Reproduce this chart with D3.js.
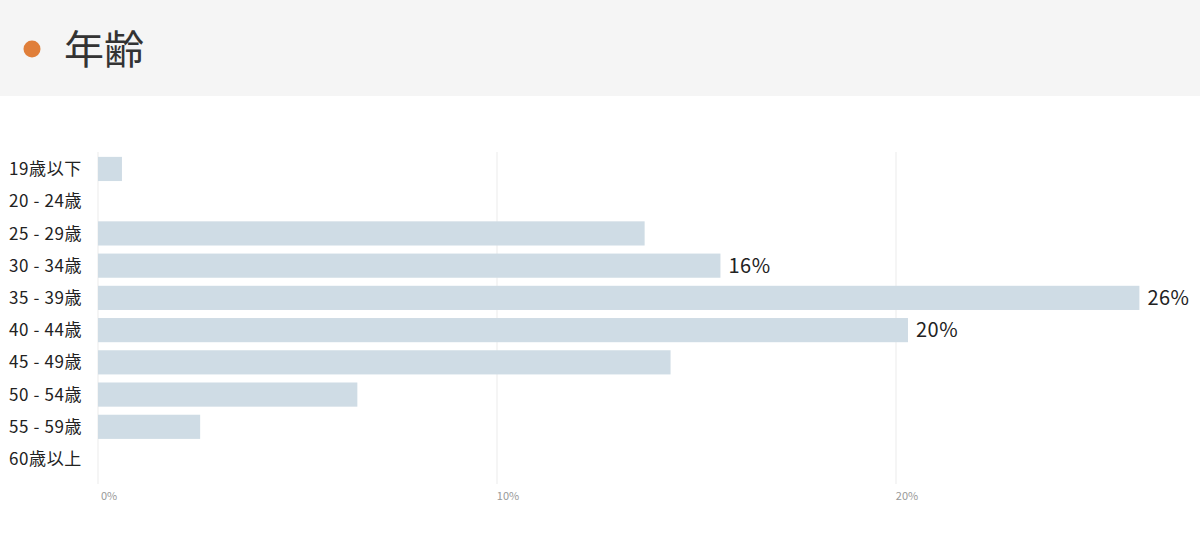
<!DOCTYPE html>
<html><head><meta charset="utf-8">
<script src="https://cdn.jsdelivr.net/npm/d3@7"></script>
<style>body{margin:0;background:#fff;font-family:"Noto Sans CJK JP","Noto Sans",sans-serif;}</style>
</head><body><div id="chart"></div>
<script>
// data
var categories = ["19歳以下","20 - 24歳","25 - 29歳","30 - 34歳","35 - 39歳","40 - 44歳","45 - 49歳","50 - 54歳","55 - 59歳","60歳以上"];
var values = [0.6, 0, 13.7, 15.6, 26.1, 20.3, 14.35, 6.5, 2.56, 0];
var valueLabels = ["", "", "", "16%", "26%", "20%", "", "", "", ""];
var ticks = [0, 10, 20];

var svgWidth = 1200, svgHeight = 544;
var svg = d3.select("#chart").append("svg")
  .attr("width", svgWidth).attr("height", svgHeight);

// header band
svg.append("rect").attr("x", 0).attr("y", 0).attr("width", svgWidth).attr("height", 96).attr("fill", "#f5f5f5");
svg.append("circle").attr("cx", 32).attr("cy", 49).attr("r", 8.5).attr("fill", "#e07f3a");
svg.append("text").attr("x", 64).attr("y", 64).attr("font-size", 40).attr("fill", "#333").text("年齢");

var x = d3.scaleLinear().domain([0, 10]).range([98, 497]);
var y = d3.scaleBand().domain(categories).range([153, 475]).paddingInner(0.25).paddingOuter(0.12);

// gridlines
svg.selectAll("line.grid").data(ticks).enter().append("line")
  .attr("x1", d => x(d)).attr("x2", d => x(d))
  .attr("y1", 152).attr("y2", 484)
  .attr("stroke", "#ebebeb").attr("stroke-width", 1);

svg.selectAll("text.tick").data(ticks).enter().append("text")
  .attr("x", d => x(d) + 11).attr("y", 500)
  .attr("text-anchor", "middle").attr("font-size", 11).attr("fill", "#999")
  .text(d => d + "%");

// bars
svg.selectAll("rect.bar").data(values).enter().append("rect")
  .attr("x", x(0)).attr("y", (d, i) => y(categories[i]))
  .attr("width", d => x(d) - x(0)).attr("height", y.bandwidth())
  .attr("fill", "#cfdce5");

svg.selectAll("text.cat").data(categories).enter().append("text")
  .attr("x", 9).attr("y", d => y(d) + y.bandwidth() / 2)
  .attr("dy", "0.36em").attr("font-size", 17).attr("letter-spacing", 0.6).attr("fill", "#222")
  .text(d => d);

svg.selectAll("text.val").data(values).enter().append("text")
  .attr("x", d => x(d) + 8).attr("y", (d, i) => y(categories[i]) + y.bandwidth() / 2)
  .attr("dy", "0.36em").attr("font-size", 20).attr("letter-spacing", 0.5).attr("fill", "#222")
  .text((d, i) => valueLabels[i]);
</script></body></html>
